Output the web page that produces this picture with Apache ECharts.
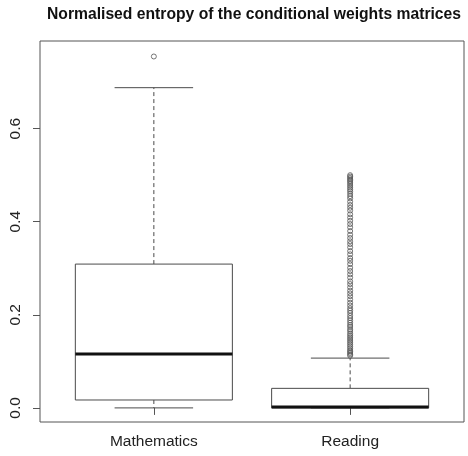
<!DOCTYPE html>
<html>
<head>
<meta charset="utf-8">
<script src="https://cdn.jsdelivr.net/npm/echarts@6/dist/echarts.min.js"></script>
<style>
html,body{margin:0;padding:0;background:#fff;}
#chart{width:468px;height:456px;}
</style>
</head>
<body>
<div id="chart"></div>
<script>
var categories = ['Mathematics', 'Reading'];
var whiskerLow = [0.000, 0.000];
var quartile1 = [0.017, 0.000];
var medians = [0.116, 0.002];
var quartile3 = [0.309, 0.042];
var whiskerHigh = [0.688, 0.107];
var mathOutliers = [0.755];
var readingOutliers = [0.500, 0.497, 0.494, 0.491, 0.488, 0.485, 0.481, 0.477, 0.473, 0.469,
  0.465, 0.460, 0.455, 0.450, 0.443, 0.436, 0.430, 0.424, 0.416, 0.409, 0.402, 0.395,
  0.388, 0.380, 0.372, 0.365, 0.358, 0.352, 0.345, 0.337, 0.330, 0.322, 0.316, 0.309,
  0.301, 0.294, 0.287, 0.280, 0.272, 0.266, 0.259, 0.252, 0.246, 0.240, 0.233, 0.226,
  0.220, 0.214, 0.209, 0.204, 0.198, 0.193, 0.188, 0.183, 0.178, 0.174, 0.169, 0.165,
  0.160, 0.156, 0.152, 0.148, 0.144, 0.140, 0.136, 0.132, 0.128, 0.124, 0.121, 0.118,
  0.115, 0.112];
var yTicks = [0, 0.2, 0.4, 0.6];
var xTicks = [1, 2];

var boxData = categories.map(function (c, i) {
  return [i + 1, whiskerLow[i], quartile1[i], medians[i], quartile3[i], whiskerHigh[i]];
});
var outlierData = [];
mathOutliers.forEach(function (v) { outlierData.push([1, v]); });
readingOutliers.forEach(function (v) { outlierData.push([2, v]); });

var lineColor = '#4a4a4a';

function renderBox(params, api) {
  var x = api.value(0);
  var lo = api.coord([x, api.value(1)]);
  var q1 = api.coord([x, api.value(2)]);
  var md = api.coord([x, api.value(3)]);
  var q3 = api.coord([x, api.value(4)]);
  var hi = api.coord([x, api.value(5)]);
  var halfBox = api.size([0.4, 0])[0];
  var halfCap = api.size([0.2, 0])[0];
  var cx = lo[0];
  var solid = { stroke: lineColor, lineWidth: 1, fill: null };
  var dashed = { stroke: lineColor, lineWidth: 1, lineDash: [4, 3], fill: null };
  return {
    type: 'group',
    children: [
      { type: 'line', shape: { x1: cx, y1: q3[1], x2: cx, y2: hi[1] }, style: dashed },
      { type: 'line', shape: { x1: cx, y1: q1[1], x2: cx, y2: lo[1] }, style: dashed },
      { type: 'line', shape: { x1: cx - halfCap, y1: hi[1], x2: cx + halfCap, y2: hi[1] }, style: solid },
      { type: 'line', shape: { x1: cx - halfCap, y1: lo[1], x2: cx + halfCap, y2: lo[1] }, style: solid },
      { type: 'rect', shape: { x: cx - halfBox, y: q3[1], width: halfBox * 2, height: q1[1] - q3[1] },
        style: { stroke: lineColor, lineWidth: 1, fill: '#fff' } },
      { type: 'line', shape: { x1: cx - halfBox, y1: md[1], x2: cx + halfBox, y2: md[1] },
        style: { stroke: '#111', lineWidth: 3 } }
    ]
  };
}

var chart = echarts.init(document.getElementById('chart'), null, { renderer: 'canvas' });
chart.setOption({
  backgroundColor: '#fff',
  animation: false,
  title: {
    text: 'Normalised entropy of the conditional weights matrices',
    left: 249, top: 2, textAlign: 'center',
    textStyle: { fontFamily: 'Liberation Sans, Arial, sans-serif', fontWeight: 'bold', fontSize: 15.7, color: '#111' }
  },
  grid: {
    left: 40, right: 4, top: 41, bottom: 34,
    show: true, borderColor: '#555', borderWidth: 1, backgroundColor: 'transparent'
  },
  xAxis: {
    type: 'value', min: 0.42, max: 2.58,
    splitLine: { show: false },
    axisLine: { show: false },
    axisTick: { show: true, length: 7, customValues: xTicks, lineStyle: { color: '#555' } },
    axisLabel: {
      customValues: xTicks, margin: 12,
      fontFamily: 'Liberation Sans, Arial, sans-serif', fontSize: 15.5, color: '#222',
      formatter: function (v) { return categories[Math.round(v) - 1]; }
    }
  },
  yAxis: {
    type: 'value', min: -0.0303, max: 0.7883,
    splitLine: { show: false },
    axisLine: { show: false },
    axisTick: { show: true, length: 7, customValues: yTicks, lineStyle: { color: '#555' } },
    axisLabel: {
      customValues: yTicks, margin: 16, rotate: 90,
      fontFamily: 'Liberation Sans, Arial, sans-serif', fontSize: 15.5, color: '#222',
      formatter: function (v) { return v.toFixed(1); }
    }
  },
  series: [
    {
      type: 'custom',
      renderItem: renderBox,
      data: boxData,
      encode: { x: 0, y: [1, 2, 3, 4, 5] },
      z: 2
    },
    {
      type: 'scatter',
      data: outlierData,
      symbol: 'circle',
      symbolSize: 5,
      itemStyle: { color: 'rgba(0,0,0,0)', borderColor: '#555', borderWidth: 1 },
      z: 3
    }
  ]
});
</script>
</body>
</html>
